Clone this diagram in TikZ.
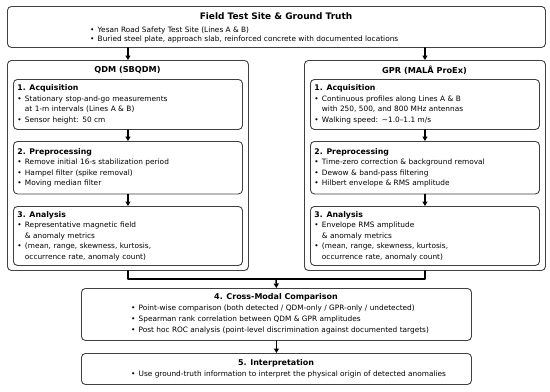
\documentclass[tikz,border=0pt]{standalone}
\usepackage{fontspec}
\setmainfont{DejaVu Sans}
\usetikzlibrary{arrows.meta}

\newcommand{\bl}{\makebox[7.5bp][l]{\textbullet}}
\newcommand{\ct}{\hspace*{7.5bp}}
\newcommand{\hd}[1]{{\fontsize{7.8}{10.6}\selectfont\bfseries #1}}

\begin{document}
\begin{tikzpicture}[x=1bp,y=-1bp,line cap=round,line join=round,
    box/.style={draw=black!75,line width=.9bp,rounded corners=4bp,inner sep=0pt,anchor=north west},
    inbox/.style={box,text width=221bp,inner xsep=4bp,inner ysep=0pt,align=left,
      minimum width=229bp,font=\fontsize{7.4}{10.6}\selectfont},
    ttl/.style={inner sep=0pt,font=\fontsize{8.2}{10}\selectfont\bfseries},
    list/.style={inner sep=0pt,align=left,anchor=west},
    flow/.style={line width=1.4bp,-{Triangle[length=4.5bp,width=5bp]}},
    link/.style={line width=1.4bp}]
    \useasboundingbox (0,0) rectangle (550,391);

    \node[box,minimum width=538bp,minimum height=41bp] (site) at (7,6) {};
    \node[ttl,font=\fontsize{9}{11}\selectfont\bfseries] (sitettl) at (276,16) {Field Test Site \& Ground Truth};
    \node[list,font=\fontsize{7.4}{8.6}\selectfont] (sitelist) at (90,35)
      {\bl Yesan Road Safety Test Site (Lines A \& B)\\
       \bl Buried steel plate, approach slab, reinforced concrete with documented locations};

    \node[box,minimum width=241bp,minimum height=210bp] (qdm) at (7,60) {};
    \node[ttl] (qdmttl) at (127.5,70) {QDM (SBQDM)};
    \node[inbox,minimum height=50bp] (qacq) at (13,79)
      {\hd{1. Acquisition}\\
       \bl Stationary stop-and-go measurements\\
       \ct at 1-m intervals (Lines A \& B)\\
       \bl Sensor height: 50 cm};
    \node[inbox,minimum height=52.5bp] (qpre) at (13,141)
      {\hd{2. Preprocessing}\\
       \bl Remove initial 16-s stabilization period\\
       \bl Hampel filter (spike removal)\\
       \bl Moving median filter};
    \node[inbox,minimum height=59bp] (qana) at (13,206)
      {\hd{3. Analysis}\\
       \bl Representative magnetic field\\
       \ct \& anomaly metrics\\
       \bl (mean, range, skewness, kurtosis,\\
       \ct occurrence rate, anomaly count)};

    \node[box,minimum width=241bp,minimum height=210bp] (gpr) at (304,60) {};
    \node[ttl] (gprttl) at (424.5,70) {GPR (MALÅ ProEx)};
    \node[inbox,minimum height=50bp] (gacq) at (310,79)
      {\hd{1. Acquisition}\\
       \bl Continuous profiles along Lines A \& B\\
       \ct with 250, 500, and 800 MHz antennas\\
       \bl Walking speed: \textasciitilde1.0--1.1 m/s};
    \node[inbox,minimum height=52.5bp] (gpre) at (310,141)
      {\hd{2. Preprocessing}\\
       \bl Time-zero correction \& background removal\\
       \bl Dewow \& band-pass filtering\\
       \bl Hilbert envelope \& RMS amplitude};
    \node[inbox,minimum height=59bp] (gana) at (310,206)
      {\hd{3. Analysis}\\
       \bl Envelope RMS amplitude\\
       \ct \& anomaly metrics\\
       \bl (mean, range, skewness, kurtosis,\\
       \ct occurrence rate, anomaly count)};

    \node[box,minimum width=390bp,minimum height=52bp] (cmp) at (81,288) {};
    \node[ttl,font=\fontsize{8}{10}\selectfont\bfseries] (cmpttl) at (276,297) {4. Cross-Modal Comparison};
    \node[list,font=\fontsize{7.4}{11}\selectfont] (cmplist) at (131,319)
      {\bl Point-wise comparison (both detected / QDM-only / GPR-only / undetected)\\
       \bl Spearman rank correlation between QDM \& GPR amplitudes\\
       \bl Post hoc ROC analysis (point-level discrimination against documented targets)};

    \node[box,minimum width=390bp,minimum height=31bp] (interp) at (81,353) {};
    \node[ttl,font=\fontsize{8}{10}\selectfont\bfseries] (interpttl) at (276,363) {5. Interpretation};
    \node[list,font=\fontsize{7.4}{11}\selectfont] (interplist) at (131,374.5)
      {\bl Use ground-truth information to interpret the physical origin of detected anomalies};

    \coordinate (join) at (276,279);
    \draw[flow] (qdm.north |- site.south) -- (qdm.north);
    \draw[flow] (gpr.north |- site.south) -- (gpr.north);
    \draw[flow] (qacq.south) -- (qpre.north);
    \draw[flow] (qpre.south) -- (qana.north);
    \draw[flow] (gacq.south) -- (gpre.north);
    \draw[flow] (gpre.south) -- (gana.north);
    \draw[link] (qdm.south) |- (join) -| (gpr.south);
    \draw[flow] (join) -- (cmp.north);
    \draw[flow] (cmp.south) -- (interp.north);
  \end{tikzpicture}
\end{document}
